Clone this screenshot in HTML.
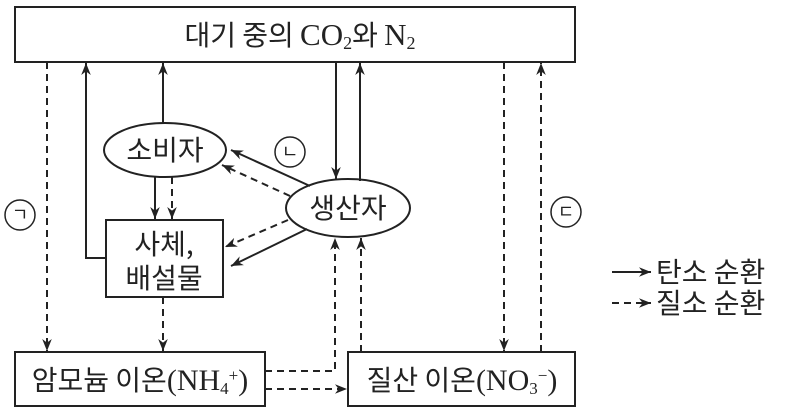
<!DOCTYPE html>
<html><head><meta charset="utf-8"><style>
html,body{margin:0;padding:0;background:#fff;width:786px;height:414px;overflow:hidden}
text{font-family:"Noto Sans CJK KR",sans-serif;fill:#222}
.l{font-family:"Liberation Serif",serif}
</style></head><body>
<svg width="786" height="414" viewBox="0 0 786 414" xmlns="http://www.w3.org/2000/svg">
<defs>
<marker id="a" viewBox="0 0 10 10" refX="10" refY="5" markerWidth="12" markerHeight="12" markerUnits="userSpaceOnUse" orient="auto"><path d="M0,1 L10,5 L0,9 L3,5 Z" fill="#222"/></marker>
</defs>
<g stroke="#222" stroke-width="2" fill="none">
<rect x="15" y="7" width="560" height="55"/>
<rect x="106" y="220" width="117" height="77"/>
<rect x="15" y="352" width="250" height="54"/>
<rect x="348" y="352" width="227" height="54"/>
<ellipse cx="165" cy="150" rx="61" ry="27"/>
<ellipse cx="348" cy="208" rx="62" ry="29"/>
<path d="M106,258 H86 V63" marker-end="url(#a)"/>
<path d="M163,123 V63" marker-end="url(#a)"/>
<path d="M336,62 V179" marker-end="url(#a)"/>
<path d="M360,181 V63" marker-end="url(#a)"/>
<path d="M155,177 V219" marker-end="url(#a)"/>
<path d="M310,186 L231,150" marker-end="url(#a)"/>
<path d="M307,229 L231,266" marker-end="url(#a)"/>
<path d="M612,272 H651" marker-end="url(#a)"/>
</g>
<g stroke="#222" stroke-width="2" fill="none" stroke-dasharray="7,5">
<path d="M47,62 V351" marker-end="url(#a)"/>
<path d="M172,177 V219" marker-end="url(#a)"/>
<path d="M290,196 L222,165" marker-end="url(#a)"/>
<path d="M288,220 L225,247" marker-end="url(#a)"/>
<path d="M163,297 V351" marker-end="url(#a)"/>
<path d="M265,371 H335 V238" marker-end="url(#a)"/>
<path d="M265,389 H347" marker-end="url(#a)"/>
<path d="M361,352 V238" marker-end="url(#a)"/>
<path d="M504,62 V351" marker-end="url(#a)"/>
<path d="M541,352 V63" marker-end="url(#a)"/>
<path d="M612,303 H651" marker-end="url(#a)"/>
</g>
<g stroke="#222" stroke-width="1.5" fill="none">
<circle cx="290" cy="152" r="15"/>
<circle cx="20" cy="215" r="15"/>
<circle cx="566" cy="212" r="15"/>
</g>
<g font-size="28">
<text x="300" y="45" text-anchor="middle">대기 중의 <tspan class="l" font-size="31">CO</tspan><tspan class="l" font-size="18" dy="4">2</tspan><tspan dy="-4">와 </tspan><tspan class="l" font-size="31">N</tspan><tspan class="l" font-size="18" dy="4">2</tspan></text>
<text x="165" y="160" text-anchor="middle">소비자</text>
<text x="348" y="218" text-anchor="middle">생산자</text>
<text x="164" y="254" text-anchor="middle">사체,</text>
<text x="164" y="288" text-anchor="middle">배설물</text>
<text x="140" y="390" text-anchor="middle">암모늄 이온<tspan class="l" font-size="30">(NH</tspan><tspan class="l" font-size="17" dy="4">4</tspan><tspan class="l" font-size="17" dy="-13">+</tspan><tspan class="l" font-size="30" dy="9">)</tspan></text>
<text x="462" y="390" text-anchor="middle">질산 이온<tspan class="l" font-size="30">(NO</tspan><tspan class="l" font-size="17" dy="4">3</tspan><tspan class="l" font-size="17" dy="-13">−</tspan><tspan class="l" font-size="30" dy="9">)</tspan></text>
<text x="656" y="282">탄소 순환</text>
<text x="656" y="313">질소 순환</text>
</g>
<g font-size="18">
<text x="290" y="158" text-anchor="middle">ㄴ</text>
<text x="20" y="221" text-anchor="middle">ㄱ</text>
<text x="566" y="218" text-anchor="middle">ㄷ</text>
</g>
</svg>
</body></html>
